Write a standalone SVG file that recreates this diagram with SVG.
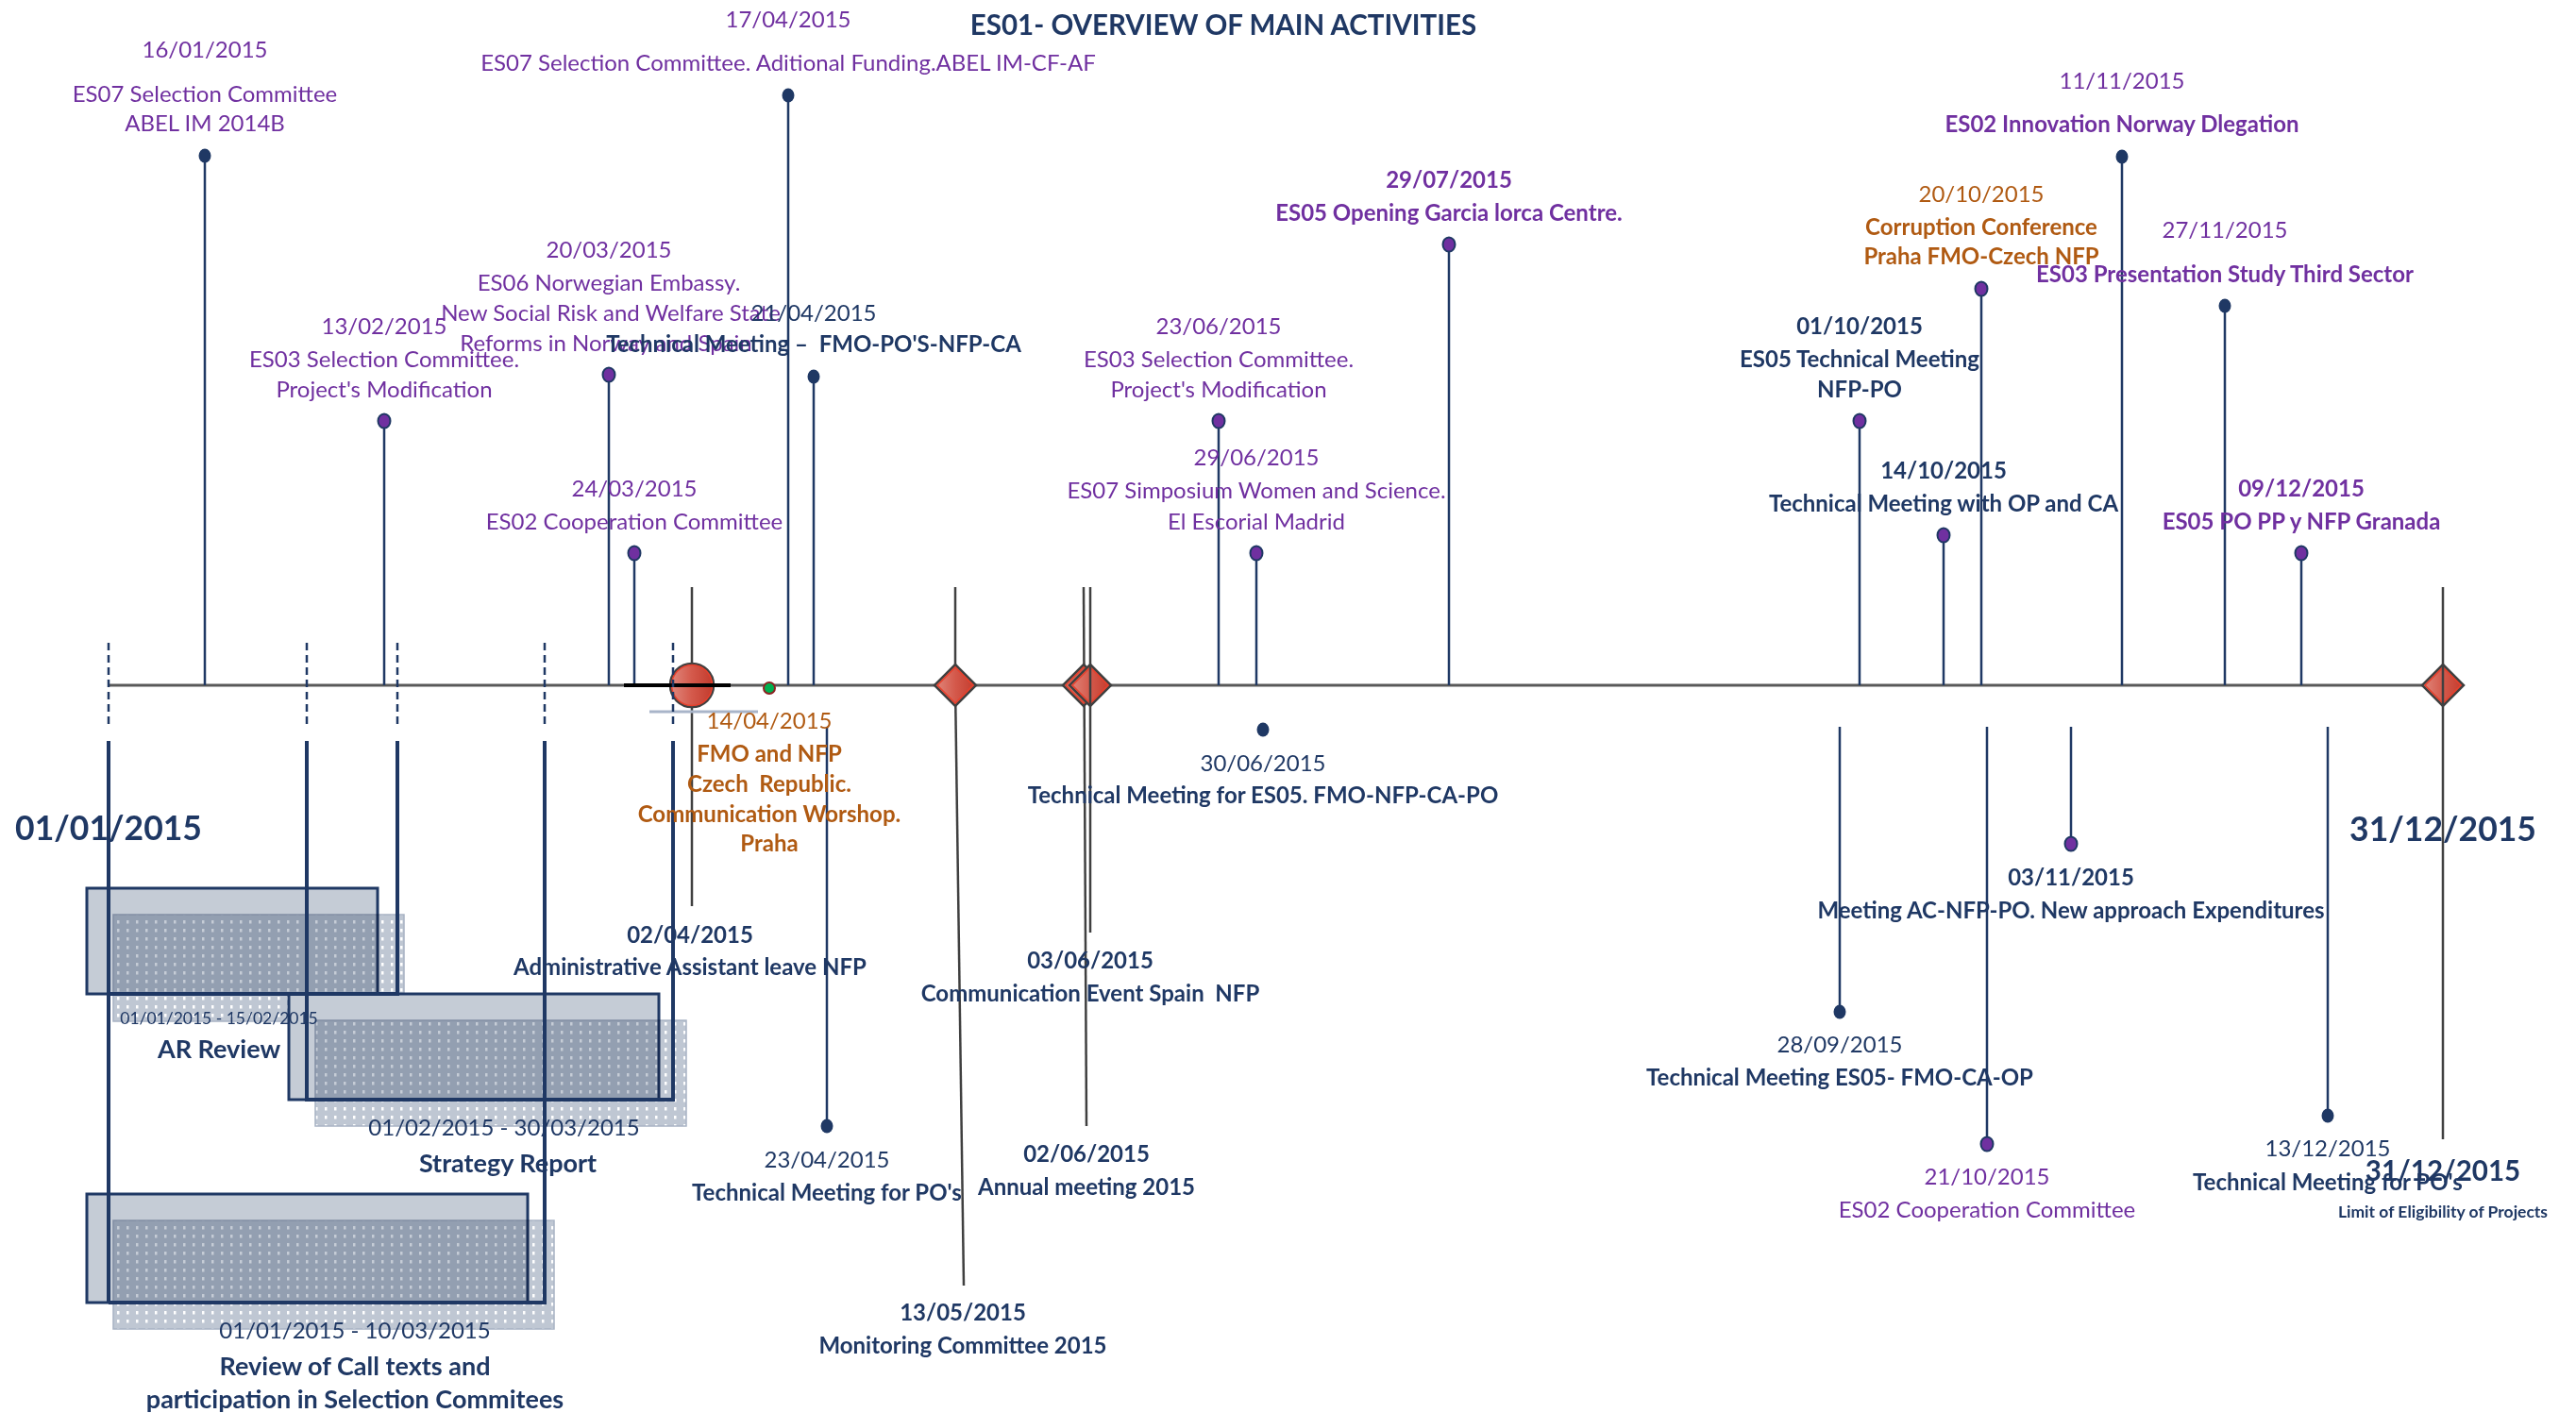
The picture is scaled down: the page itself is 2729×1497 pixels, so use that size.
<svg xmlns="http://www.w3.org/2000/svg" width="2729" height="1497" viewBox="0 0 2729 1497">
<style>
text{font-family:Lato,"Liberation Sans",sans-serif;font-size:24px;text-anchor:middle}
.b{font-weight:bold}
.pu{fill:#7030A0}
.nv{fill:#1F3864}
.or{fill:#B05A12}
.big{font-size:35.5px;font-weight:bold;fill:#1F3864}
.title{font-size:29.5px;font-weight:bold;fill:#1F3864}
.sm{font-size:17.5px}
.bar{font-size:27px;font-weight:bold;fill:#1F3864}
.stem{stroke:#1F3864;stroke-width:2.5;fill:none}
.gline{stroke:#404040;stroke-width:2.5;fill:none}
.dn{fill:#1F3864}
.dp{fill:#7030A0;stroke:#1F3864;stroke-width:2}
.dash{stroke:#1F3864;stroke-width:2.5;stroke-dasharray:8 5;fill:none}
.brk{stroke:#1F3864;stroke-width:4;fill:none}
.front{fill:#C5CCD6;stroke:#1F3864;stroke-width:3}
.shadow{fill:url(#dots);stroke:#A8B3C4;stroke-width:1.5;mix-blend-mode:multiply}
.dia{fill:url(#red);stroke:#404040;stroke-width:2.5}
.diain{fill:none;stroke:#E8402C;stroke-width:1.5}
</style>
<defs>
<linearGradient id="red" x1="0" y1="0" x2="1" y2="0">
<stop offset="0" stop-color="#E0897E"/>
<stop offset="0.5" stop-color="#D4594B"/>
<stop offset="1" stop-color="#C23A2C"/>
</linearGradient>
<pattern id="dots" width="10" height="9" patternUnits="userSpaceOnUse">
<rect width="10" height="9" fill="#BFC7D3"/>
<rect x="4" y="3" width="2.5" height="3.5" fill="#FFFFFF"/>
</pattern>
</defs>
<rect width="2729" height="1497" fill="#FFFFFF"/>

<text id="title" class="title" x="1296" y="37">ES01- OVERVIEW OF MAIN ACTIVITIES</text>

<!-- Gantt bars -->
<g id="bar-ar-review">
<rect class="front" x="92" y="941" width="308" height="112"/>
<rect class="shadow" x="120" y="969" width="308" height="113"/>
</g>
<g id="bar-strategy-report">
<rect class="front" x="306" y="1053" width="392" height="112"/>
<rect class="shadow" x="334" y="1081" width="393" height="112"/>
</g>
<g id="bar-review-call">
<rect class="front" x="92" y="1265" width="467" height="115"/>
<rect class="shadow" x="120" y="1293" width="467" height="115"/>
</g>

<!-- connectors -->
<g id="connectors">
<line x1="115" y1="726" x2="2588" y2="726" stroke="#595959" stroke-width="3"/>
<line class="dash" x1="115" y1="681" x2="115" y2="772"/>
<line class="dash" x1="325" y1="681" x2="325" y2="772"/>
<line class="dash" x1="421" y1="681" x2="421" y2="772"/>
<line class="dash" x1="577" y1="681" x2="577" y2="772"/>
<line class="brk" x1="115" y1="785" x2="115" y2="1380"/>
<polyline class="brk" points="115,1053 421,1053 421,785"/>
<polyline class="brk" points="325,785 325,1165 713,1165 713,785"/>
<polyline class="brk" points="115,1380 577,1380 577,785"/>
<line class="stem" x1="217" y1="165" x2="217" y2="726"/>
<line class="stem" x1="407" y1="446" x2="407" y2="726"/>
<line class="stem" x1="645" y1="397" x2="645" y2="726"/>
<line class="stem" x1="672" y1="586" x2="672" y2="726"/>
<line class="stem" x1="835" y1="101" x2="835" y2="726"/>
<line class="stem" x1="862" y1="399" x2="862" y2="726"/>
<line class="stem" x1="1291" y1="446" x2="1291" y2="726"/>
<line class="stem" x1="1331" y1="586" x2="1331" y2="726"/>
<line class="stem" x1="1535" y1="259" x2="1535" y2="726"/>
<line class="stem" x1="1970" y1="446" x2="1970" y2="726"/>
<line class="stem" x1="2059" y1="567" x2="2059" y2="726"/>
<line class="stem" x1="2099" y1="306" x2="2099" y2="726"/>
<line class="stem" x1="2248" y1="166" x2="2248" y2="726"/>
<line class="stem" x1="2357" y1="324" x2="2357" y2="726"/>
<line class="stem" x1="2438" y1="586" x2="2438" y2="726"/>
<line class="stem" x1="876" y1="770" x2="876" y2="1193"/>
<line class="stem" x1="1949" y1="770" x2="1949" y2="1072"/>
<line class="stem" x1="2105" y1="770" x2="2105" y2="1212"/>
<line class="stem" x1="2194" y1="770" x2="2194" y2="894"/>
<line class="stem" x1="2466" y1="770" x2="2466" y2="1182"/>
<line class="gline" x1="733" y1="622" x2="733" y2="960"/>
<line class="gline" x1="1012" y1="622" x2="1012" y2="726"/>
<line class="gline" x1="1012" y1="726" x2="1021" y2="1362"/>
<line class="gline" x1="1148" y1="622" x2="1151" y2="1193"/>
<line class="gline" x1="1155" y1="622" x2="1155" y2="988"/>
<line class="gline" x1="2588" y1="622" x2="2588" y2="1207"/>
<line x1="688" y1="754" x2="803" y2="754" stroke="#A9B5C9" stroke-width="3"/>
</g>

<!-- Milestones -->
<g id="ms-0204">
<circle cx="733" cy="726" r="23" class="dia"/>
<circle cx="733" cy="726" r="21.5" class="diain"/>
<line x1="661" y1="726" x2="774" y2="726" stroke="#000000" stroke-width="4"/>
<line class="dash" x1="713" y1="681" x2="713" y2="772"/>
<text class="nv b" x="731" y="999">02/04/2015</text>
<text class="nv b" x="731" y="1033">Administrative Assistant leave NFP</text>
</g>
<g id="ms-1305">
<polygon class="dia" points="1012,704 1034,726 1012,748 990,726"/>
<polygon class="diain" points="1012,707 1031,726 1012,745 993,726"/>
<text class="nv b" x="1020" y="1399">13/05/2015</text>
<text class="nv b" x="1020" y="1434">Monitoring Committee 2015</text>
</g>
<g id="ms-0206">
<polygon class="dia" points="1148,704 1170,726 1148,748 1126,726"/>
<polygon class="diain" points="1148,707 1167,726 1148,745 1129,726"/>
<text class="nv b" x="1151" y="1231">02/06/2015</text>
<text class="nv b" x="1151" y="1266">Annual meeting 2015</text>
</g>
<g id="ms-0306">
<polygon class="dia" points="1155,704 1177,726 1155,748 1133,726"/>
<polygon class="diain" points="1155,707 1174,726 1155,745 1136,726"/>
<line class="gline" x1="1155" y1="704" x2="1155" y2="748"/>
<text class="nv b" x="1155" y="1026">03/06/2015</text>
<text class="nv b" x="1155" y="1061" xml:space="preserve">Communication Event Spain  NFP</text>
</g>
<g id="ms-3112">
<polygon class="dia" points="2588,704 2610,726 2588,748 2566,726"/>
<polygon class="diain" points="2588,707 2607,726 2588,745 2569,726"/>
<line class="gline" x1="2588" y1="704" x2="2588" y2="748"/>
<text class="big" x="2588" y="891">31/12/2015</text>
<text class="title" x="2588" y="1251">31/12/2015</text>
<text class="nv b sm" x="2588" y="1290">Limit of Eligibility of Projects</text>
</g>
<g id="start-0101">
<text class="big" x="115" y="890">01/01/2015</text>
</g>

<!-- events above -->
<g id="ev-1601">
<ellipse class="dn" cx="217" cy="165" rx="6.5" ry="7.5"/>
<text class="pu" x="217" y="61">16/01/2015</text>
<text class="pu" x="217" y="108">ES07 Selection Committee</text>
<text class="pu" x="217" y="139">ABEL IM 2014B</text>
</g>
<g id="ev-1302">
<ellipse class="dp" cx="407" cy="446" rx="6.5" ry="7.5"/>
<text class="pu" x="407" y="354">13/02/2015</text>
<text class="pu" x="407" y="389">ES03 Selection Committee.</text>
<text class="pu" x="407" y="421">Project's Modification</text>
</g>
<g id="ev-2003">
<ellipse class="dp" cx="645" cy="397" rx="6.5" ry="7.5"/>
<text class="pu" x="645" y="273">20/03/2015</text>
<text class="pu" x="645" y="308">ES06 Norwegian Embassy.</text>
<text class="pu" x="647" y="340">New Social Risk and Welfare State</text>
<text class="pu" x="642" y="372">Reforms in Norway and Spain</text>
</g>
<g id="ev-2403">
<ellipse class="dp" cx="672" cy="586" rx="6.5" ry="7.5"/>
<text class="pu" x="672" y="526">24/03/2015</text>
<text class="pu" x="672" y="561">ES02 Cooperation Committee</text>
</g>
<g id="ev-1704">
<ellipse class="dn" cx="835" cy="101" rx="6.5" ry="7.5"/>
<text class="pu" x="835" y="29">17/04/2015</text>
<text class="pu" x="835" y="75">ES07 Selection Committee. Aditional Funding.ABEL IM-CF-AF</text>
</g>
<g id="ev-2104">
<ellipse class="dn" cx="862" cy="399" rx="6.5" ry="7.5"/>
<text class="nv" x="862" y="340">21/04/2015</text>
<text class="nv b" x="862" y="373" xml:space="preserve">Technical Meeting –  FMO-PO'S-NFP-CA</text>
</g>
<g id="ev-2306">
<ellipse class="dp" cx="1291" cy="446" rx="6.5" ry="7.5"/>
<text class="pu" x="1291" y="354">23/06/2015</text>
<text class="pu" x="1291" y="389">ES03 Selection Committee.</text>
<text class="pu" x="1291" y="421">Project's Modification</text>
</g>
<g id="ev-2906">
<ellipse class="dp" cx="1331" cy="586" rx="6.5" ry="7.5"/>
<text class="pu" x="1331" y="493">29/06/2015</text>
<text class="pu" x="1331" y="528">ES07 Simposium Women and Science.</text>
<text class="pu" x="1331" y="561">El Escorial Madrid</text>
</g>
<g id="ev-2907">
<ellipse class="dp" cx="1535" cy="259" rx="6.5" ry="7.5"/>
<text class="pu b" x="1535" y="199">29/07/2015</text>
<text class="pu b" x="1535" y="234">ES05 Opening Garcia lorca Centre.</text>
</g>
<g id="ev-0110">
<ellipse class="dp" cx="1970" cy="446" rx="6.5" ry="7.5"/>
<text class="nv b" x="1970" y="354">01/10/2015</text>
<text class="nv b" x="1970" y="389">ES05 Technical Meeting</text>
<text class="nv b" x="1970" y="421">NFP-PO</text>
</g>
<g id="ev-1410">
<ellipse class="dp" cx="2059" cy="567" rx="6.5" ry="7.5"/>
<text class="nv b" x="2059" y="507">14/10/2015</text>
<text class="nv b" x="2059" y="542">Technical Meeting with OP and CA</text>
</g>
<g id="ev-2010">
<ellipse class="dp" cx="2099" cy="306" rx="6.5" ry="7.5"/>
<text class="or" x="2099" y="214">20/10/2015</text>
<text class="or b" x="2099" y="249">Corruption Conference</text>
<text class="or b" x="2099" y="280">Praha FMO-Czech NFP</text>
</g>
<g id="ev-1111">
<ellipse class="dn" cx="2248" cy="166" rx="6.5" ry="7.5"/>
<text class="pu" x="2248" y="94">11/11/2015</text>
<text class="pu b" x="2248" y="140">ES02 Innovation Norway Dlegation</text>
</g>
<g id="ev-2711">
<ellipse class="dn" cx="2357" cy="324" rx="6.5" ry="7.5"/>
<text class="pu" x="2357" y="252">27/11/2015</text>
<text class="pu b" x="2357" y="299">ES03 Presentation Study Third Sector</text>
</g>
<g id="ev-0912">
<ellipse class="dp" cx="2438" cy="586" rx="6.5" ry="7.5"/>
<text class="pu b" x="2438" y="526">09/12/2015</text>
<text class="pu b" x="2438" y="561">ES05 PO PP y NFP Granada</text>
</g>

<!-- events below -->
<g id="ev-1404">
<circle cx="815" cy="729" r="6" fill="#00B050" stroke="#8B2323" stroke-width="2"/>
<text class="or" x="815" y="772">14/04/2015</text>
<text class="or b" x="815" y="807">FMO and NFP</text>
<text class="or b" x="815" y="839" xml:space="preserve">Czech  Republic.</text>
<text class="or b" x="815" y="871">Communication Worshop.</text>
<text class="or b" x="815" y="902">Praha</text>
</g>
<g id="ev-2304">
<ellipse class="dn" cx="876" cy="1193" rx="6.5" ry="7.5"/>
<text class="nv" x="876" y="1237">23/04/2015</text>
<text class="nv b" x="876" y="1272">Technical Meeting for PO's</text>
</g>
<g id="ev-3006">
<ellipse class="dn" cx="1338" cy="773" rx="6.5" ry="7.5"/>
<text class="nv" x="1338" y="817">30/06/2015</text>
<text class="nv b" x="1338" y="851">Technical Meeting for ES05. FMO-NFP-CA-PO</text>
</g>
<g id="ev-2809">
<ellipse class="dn" cx="1949" cy="1072" rx="6.5" ry="7.5"/>
<text class="nv" x="1949" y="1115">28/09/2015</text>
<text class="nv b" x="1949" y="1150">Technical Meeting ES05- FMO-CA-OP</text>
</g>
<g id="ev-2110">
<ellipse class="dp" cx="2105" cy="1212" rx="6.5" ry="7.5"/>
<text class="pu" x="2105" y="1255">21/10/2015</text>
<text class="pu" x="2105" y="1290">ES02 Cooperation Committee</text>
</g>
<g id="ev-0311">
<ellipse class="dp" cx="2194" cy="894" rx="6.5" ry="7.5"/>
<text class="nv b" x="2194" y="938">03/11/2015</text>
<text class="nv b" x="2194" y="973">Meeting AC-NFP-PO. New approach Expenditures</text>
</g>
<g id="ev-1312">
<ellipse class="dn" cx="2466" cy="1182" rx="6.5" ry="7.5"/>
<text class="nv" x="2466" y="1225">13/12/2015</text>
<text class="nv b" x="2466" y="1261">Technical Meeting for PO's</text>
</g>

<!-- bar labels -->
<g id="lbl-ar-review">
<text class="nv sm" x="232" y="1085">01/01/2015 - 15/02/2015</text>
<text class="bar" x="232" y="1121">AR Review</text>
</g>
<g id="lbl-strategy">
<text class="nv" x="534" y="1203">01/02/2015 - 30/03/2015</text>
<text class="bar" x="538" y="1242">Strategy Report</text>
</g>
<g id="lbl-review-call">
<text class="nv" x="376" y="1418">01/01/2015 - 10/03/2015</text>
<text class="bar" x="376" y="1457">Review of Call texts and</text>
<text class="bar" x="376" y="1492">participation in Selection Commitees</text>
</g>
</svg>
